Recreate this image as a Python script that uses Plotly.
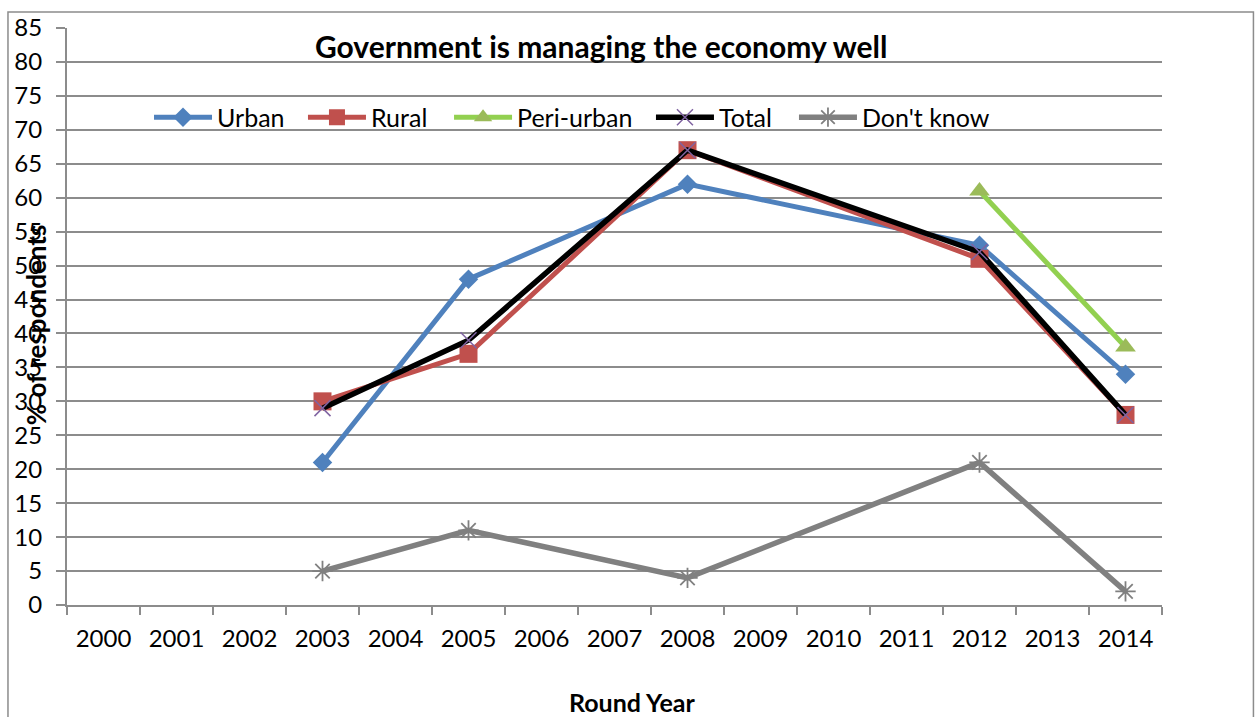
import plotly.graph_objects as go

# Survey rounds shown on the category axis
years = [str(y) for y in range(2000, 2015)]

# Percentage of respondents per round (None = no survey for that group)
urban = [None, None, None, 21, None, 48, None, None, 62, None, None, None, 53, None, 34]
rural = [None, None, None, 30, None, 37, None, None, 67, None, None, None, 51, None, 28]
peri_urban = [None, None, None, None, None, None, None, None, None, None, None, None, 61, None, 38]
total = [None, None, None, 29, None, 39, None, None, 67, None, None, None, 52, None, 28]
dont_know = [None, None, None, 5, None, 11, None, None, 4, None, None, None, 21, None, 2]

y_ticks = list(range(0, 90, 5))

FONT = "Lato"
GRID = "#8c8c8c"

fig = go.Figure()

# name, values, line style, marker style, legend id, legend x (paper)
series = [
    ("Urban", urban, dict(color="#4f81bd", width=5),
     dict(symbol="diamond", size=15, color="#4f81bd"), "legend", 0.0749),
    ("Rural", rural, dict(color="#c0504d", width=5),
     dict(symbol="square", size=18, color="#c0504d"), "legend2", 0.2155),
    ("Peri-urban", peri_urban, dict(color="#92d050", width=5),
     dict(symbol="triangle-up", size=18, color="#9bbb59"), "legend3", 0.3489),
    ("Total", total, dict(color="#000000", width=5.5),
     dict(symbol="x-thin-open", size=16, color="#7f63a1",
          line=dict(width=1.5, color="#7f63a1")), "legend4", 0.5333),
    ("Don't know", dont_know, dict(color="#808080", width=5.5),
     dict(symbol="asterisk-open", size=17, color="#808080",
          line=dict(width=1.8, color="#808080")), "legend5", 0.6639),
]

legends = {}
for name, vals, line, marker, leg, lx in series:
    fig.add_trace(go.Scatter(
        x=years, y=vals, name=name, mode="lines+markers",
        connectgaps=True, line=line, marker=marker, legend=leg,
    ))
    legends[leg] = dict(
        orientation="h", x=lx, y=0.845, xanchor="left", yanchor="middle",
        font=dict(family=FONT, size=25), bgcolor="rgba(0,0,0,0)",
        itemwidth=58,
    )

fig.update_layout(
    width=1255, height=717,
    margin=dict(l=67, r=93, t=25, b=112),
    paper_bgcolor="white", plot_bgcolor="white",
    font=dict(family=FONT, size=24, color="#000000"),
    showlegend=True,
    xaxis=dict(
        type="category", categoryorder="array", categoryarray=years,
        range=[-0.5, 14.5], tickson="boundaries", ticks="outside", ticklen=8,
        tickwidth=2, tickcolor=GRID, showgrid=False, showline=True,
        linecolor=GRID, linewidth=2, zeroline=False, ticklabelstandoff=11,
        tickfont=dict(family=FONT, size=24),
    ),
    yaxis=dict(
        range=[0, 85], tickvals=y_ticks, ticks="outside", ticklen=9,
        tickwidth=2, tickcolor=GRID, showgrid=True, gridcolor=GRID,
        gridwidth=2, showline=True, linecolor=GRID, linewidth=2,
        zeroline=False, ticklabelstandoff=9,
        tickfont=dict(family=FONT, size=24),
    ),
    annotations=[
        dict(text="<b>Government is managing the economy well</b>",
             xref="paper", yref="paper", x=0.488, y=1.0, xanchor="center",
             yanchor="middle", yshift=-18, showarrow=False,
             font=dict(family=FONT, size=30)),
        dict(text="<b>Round Year</b>", xref="paper", yref="paper",
             x=0.516, y=0, yshift=-97, xanchor="center", yanchor="middle",
             showarrow=False, font=dict(family=FONT, size=25)),
        dict(text="<b>% of respondents</b>", xref="paper", yref="paper",
             x=0, xshift=-31, y=0.485, xanchor="center", yanchor="middle",
             textangle=-90, showarrow=False, font=dict(family=FONT, size=26)),
    ],
    shapes=[
        dict(type="rect", xref="paper", yref="paper",
             x0=-0.0539, x1=1.0835, y0=-0.25, y1=1.0277,
             line=dict(color="#8c8c8c", width=1.5), fillcolor="rgba(0,0,0,0)",
             layer="below"),
    ],
)
fig.update_layout(**legends)

fig.write_html("out.html")
